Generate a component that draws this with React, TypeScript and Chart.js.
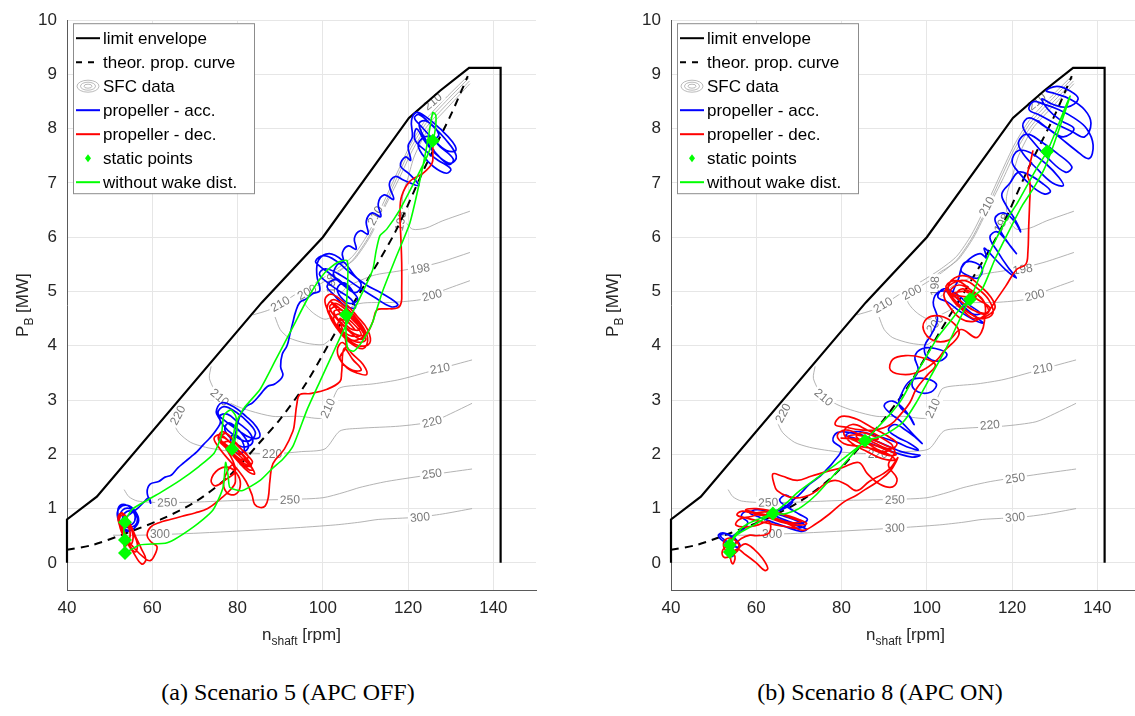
import React, { useEffect, useRef } from "react";
import { Chart, registerables } from "chart.js";
Chart.register(...registerables);

// ---------------- shared data (x = n_shaft [rpm], y = P_B [MW]) ----------------
const X_TICKS = [40, 60, 80, 100, 120, 140];
const Y_TICKS = [0, 1, 2, 3, 4, 5, 6, 7, 8, 9, 10];

const LIMIT_ENVELOPE = [40, 0, 40, 0.8, 47, 1.22, 85.7, 4.8, 100, 6.0, 120.2, 8.2, 127.5, 8.7, 134.3, 9.12, 141.7, 9.12, 141.7, 0];
const PROP_CURVE = [40, 0.24, 46, 0.33, 54, 0.55, 62, 0.8, 70, 1.12, 78, 1.6, 85, 2.2, 90, 2.65, 96, 3.3, 103, 4.25, 110, 5.15, 117, 6.1, 124, 7.3, 130, 8.25, 134, 8.97];

// SFC contour lines (g/kWh)
const SFC_A = [134.5, 6.48, 128, 6.3, 124.2, 6.17, 121, 6.15, 119, 6.35, 118.7, 6.75, 120, 7.1, 121.5, 7.5, 124.8, 8.0, 128.8, 8.35, 134.5, 8.83];
const SFC_198 = [134.5, 5.72, 128, 5.55, 124.6, 5.48, 118, 5.38, 112, 5.3, 106, 5.1, 103, 4.9, 101.9, 5.05, 102.3, 5.3, 105, 5.45, 107.5, 5.6, 111, 6.0, 114.5, 6.55, 118, 7.1, 121, 7.6, 124.5, 8.05, 128.5, 8.4, 134.4, 8.88];
const SFC_200 = [134.5, 5.2, 128.2, 5.02, 123.5, 4.86, 116.4, 4.8, 108.7, 4.78, 104, 4.6, 100.5, 4.49, 97.5, 4.62, 95.5, 4.82, 96.5, 5.0, 99, 5.12, 103, 5.32, 107, 5.58, 110.7, 6.0, 114.2, 6.55, 117.7, 7.15, 120.7, 7.65, 124.2, 8.1, 128.2, 8.45, 134.2, 8.93];
const SFC_210_UP = [83.6, 4.57, 87, 4.65, 89.7, 4.75, 94.4, 4.99, 99, 5.2, 103, 5.4, 107, 5.65, 110.5, 6.05, 114, 6.6, 117.5, 7.2, 120.5, 7.7, 124, 8.15, 128, 8.5, 134, 8.97];
const SFC_210_ARC = [88.8, 4.53, 90, 4.3, 92, 4.15, 96, 4.05, 100, 4.02, 101.5, 4.1];
const SFC_210_LOW = [73.8, 3.62, 73.4, 3.4, 75.2, 3.12, 78.9, 2.92, 83, 2.8, 88.3, 2.7, 94.6, 2.7, 100, 2.67, 101.7, 2.89, 103.5, 3.2, 105.2, 3.25, 112, 3.3, 118.1, 3.38, 127.5, 3.58, 135, 3.74];
const SFC_220 = [66.8, 2.9, 65.5, 2.75, 65, 2.6, 66.2, 2.4, 69, 2.22, 72.5, 2.13, 76, 2.08, 80, 2.04, 88.1, 2.01, 95, 2.05, 100.5, 2.1, 104, 2.43, 108.7, 2.48, 118, 2.52, 125.6, 2.6, 130, 2.75, 135, 2.94];
const SFC_250 = [53.4, 1.35, 54.5, 1.22, 56.5, 1.14, 61.8, 1.11, 70, 1.12, 80, 1.15, 92.3, 1.17, 100, 1.2, 105, 1.3, 108.7, 1.39, 115, 1.5, 125, 1.62, 135, 1.73];
const SFC_300 = [50.8, 0.51, 57.1, 0.51, 71.2, 0.55, 92.3, 0.64, 103, 0.7, 108.7, 0.75, 113, 0.8, 122, 0.84, 128, 0.9, 135, 1.0];
const SFC_LINES = [SFC_A, SFC_198, SFC_200, SFC_210_UP, SFC_210_ARC, SFC_210_LOW, SFC_220, SFC_250, SFC_300];

type Lbl = [string, number, number, number];

// ---------------- Scenario 5 (APC OFF) ----------------
const S5_LABELS: Lbl[] = [
  ["300", 61.8, 0.52, 0], ["300", 122.8, 0.84, -6],
  ["250", 63.5, 1.11, -2], ["250", 92.3, 1.16, -2], ["250", 125.6, 1.64, -8],
  ["220", 66.0, 2.72, -62], ["220", 88.1, 2.01, 0], ["220", 125.6, 2.6, -14],
  ["210", 75.8, 3.05, 40], ["210", 101.2, 2.85, -65], ["210", 127.5, 3.58, -10], ["210", 90.0, 4.77, -30], ["210", 112.3, 6.4, -62], ["210", 125.8, 8.5, -40],
  ["200", 96.3, 4.99, -28], ["200", 125.6, 4.93, -14],
  ["198", 122.8, 5.42, -8], ["198", 102.0, 5.15, -88], ["198", 118.3, 6.3, -80],
];
const S5_STATIC = [53.6, 0.18, 53.6, 0.42, 53.6, 0.75, 78.7, 2.1, 105.4, 4.57, 125.8, 7.78];
const S5_ACC = [
  53.6, 0.3, 53.4, 0.55, 52.2, 0.8, 52.0, 1.0, 53.2, 1.08, 55.2, 1.0, 56.6, 0.85, 56.2, 0.68, 54.6, 0.6, 52.8, 0.68, 51.8, 0.88, 52.4, 1.02, 54.2, 1.06, 56.0, 0.95, 56.8, 0.78, 55.8, 0.64, 54.2, 0.58, 52.9, 0.64, 52.3, 0.8, 53.0, 0.97, 54.8, 1.0, 56.2, 0.9, 56.4, 0.74, 55.2, 0.66, 53.8, 0.66, 53.0, 0.76, 53.6, 0.92, 55.2, 0.95, 56.0, 0.84, 55.4, 0.72, 54.2, 0.72, 53.8, 0.82, 54.8, 0.9,
  56.5, 1.0, 57.8, 1.1, 59.2, 1.2, 59.6, 1.1, 58.8, 1.3, 59.5, 1.45, 61.5, 1.5, 63, 1.58, 64.5, 1.62, 66, 1.75, 67.5, 1.85, 69, 1.95, 70.5, 2.05, 72, 2.18, 73.5, 2.3, 75, 2.45,
  76, 2.6, 75, 2.78, 76.3, 2.95, 79, 2.88, 82, 2.7, 84.5, 2.5, 85.2, 2.32, 83.2, 2.3, 80, 2.45, 77, 2.62, 75.4, 2.76, 76.8, 2.88, 79.6, 2.78, 82.6, 2.58, 84.2, 2.38, 82.2, 2.24, 79, 2.36, 76.6, 2.54, 75.8, 2.7, 77.6, 2.74, 80.2, 2.58, 83, 2.38, 83.4, 2.2, 81, 2.14, 78.6, 2.28, 77, 2.46, 78, 2.58, 80.6, 2.42, 82.6, 2.16, 81.2, 2.04, 79.2, 2.12, 78.4, 2.32, 80, 2.34, 81.6, 2.12, 80.6, 2.0, 79.2, 2.08,
  79.6, 2.4, 80.5, 2.7, 82, 2.88, 83.5, 2.95, 85.3, 3.1, 87, 3.25, 88.8, 3.3, 90.6, 3.45, 90.1, 3.62, 90.5, 3.85, 91.6, 4.0, 92.3, 4.22, 93, 4.44, 93.6, 4.62, 94.6, 4.8, 96, 4.86, 97.6, 4.96, 99.3, 5.02,
  98.6, 5.3, 99, 5.58, 101.5, 5.7, 104.5, 5.58, 107.2, 5.32, 109, 5.12, 107.6, 4.98, 104.8, 5.12, 101.8, 5.32, 99.4, 5.46, 98.3, 5.56, 100.2, 5.66, 103.2, 5.56, 106.2, 5.36, 110.2, 5.12, 114, 4.96, 117.6, 4.76, 116, 4.72, 112, 4.9, 108, 5.1, 104.2, 5.3, 100.6, 5.42, 99.2, 5.32, 101.2, 5.16, 104, 5.0, 106.6, 4.86, 107.6, 4.7, 105.2, 4.74, 102.6, 4.94, 101, 5.1, 103, 5.22, 106, 5.06, 108.2, 4.86, 106.4, 4.78, 104.2, 4.9, 103.4, 5.06, 105, 5.16, 107, 5.0,
  104, 5.2, 102.5, 5.3, 103.4, 5.5, 104.8, 5.55, 104.6, 5.72, 106, 5.84, 107.8, 5.78, 107.4, 5.98, 108.8, 6.12, 110.6, 6.06, 110.2, 6.3, 111.6, 6.45, 113.6, 6.38, 113, 6.62, 114.4, 6.78, 116.6, 6.7, 115.6, 6.98, 117, 7.12, 119, 7.05, 122.5, 6.95, 120.5, 7.15, 118.2, 7.32, 119.4, 7.48, 120.6, 7.42, 120, 7.68, 121, 7.85,
  120.8, 8.15, 122, 8.3, 124.5, 8.2, 127.5, 8.0, 130.4, 7.76, 131.2, 7.6, 129, 7.6, 126, 7.8, 123, 8.05, 121.5, 8.2, 122.6, 8.26, 125.6, 8.06, 128.6, 7.82, 131.3, 7.5, 130, 7.36, 127, 7.5, 124, 7.76, 122, 8.0, 121.6, 7.8, 124, 7.6, 127, 7.42, 130, 7.26, 129, 7.18, 126, 7.3, 123.4, 7.52, 122.4, 7.72, 124.6, 7.86, 127.6, 7.66, 130.6, 7.44, 129.6, 7.34, 126.4, 7.56, 123.8, 7.84, 122.6, 8.1, 124.4, 8.14, 127.2, 7.9, 125.8, 7.78,
];
const S5_DEC = [
  125.8, 7.78, 125.8, 7.55, 125.6, 7.36, 123.5, 7.18, 120.4, 7.03, 118.5, 6.76, 118.1, 6.45, 118.3, 6.0, 118.5, 5.53, 118.5, 5.0, 118.4, 4.8, 117.6, 4.7, 115, 4.68, 112.7, 4.66, 111.7, 4.44,
  110, 4.2, 107, 4.1, 104, 4.3, 101.5, 4.6, 100.5, 4.85, 102, 4.95, 105, 4.8, 108, 4.55, 110.5, 4.3, 111, 4.05, 108.5, 4.0, 105.5, 4.15, 102.5, 4.45, 101, 4.7, 102.5, 4.85, 105.5, 4.7, 108.5, 4.45, 110.5, 4.15, 109.5, 3.95, 106.5, 4.05, 103.5, 4.3, 101.5, 4.6, 103, 4.72, 106, 4.56, 109, 4.3, 110, 4.1, 107.5, 4.08, 104.5, 4.25, 102.5, 4.5, 104, 4.58, 107, 4.42, 109, 4.2, 106, 4.2, 103.5, 4.4, 105, 4.48, 107.5, 4.3,
  102, 4.8, 105, 4.62, 108, 4.4, 110, 4.2, 108.8, 4.12, 106, 4.28, 103, 4.52, 101.6, 4.72, 103.2, 4.78, 106.2, 4.6, 109, 4.35, 109.6, 4.2, 107.4, 4.22, 104.6, 4.4, 102.6, 4.62, 104.2, 4.66, 107.2, 4.48, 108.6, 4.3, 106.4, 4.32, 104, 4.5,
  105.5, 4.0, 104, 3.78, 105.6, 3.6, 108, 3.5, 110.3, 3.47, 109.4, 3.66, 106.8, 3.86, 104.6, 4.06, 103.4, 3.92, 104.4, 3.7, 107, 3.55, 109, 3.56, 107, 3.75, 105, 3.95,
  104.4, 3.5, 104, 3.34, 101, 3.2, 97, 3.12, 94.6, 3.1, 93.9, 2.92, 93.4, 2.6, 93, 2.43, 91, 2.1, 88.3, 1.83, 87.6, 1.52, 87.2, 1.2, 86.5, 1.05, 85.3, 1.02, 84, 1.08, 83.4, 1.25,
  82, 1.5, 80, 1.72, 77.5, 1.94, 75.5, 2.14, 74.5, 2.3, 76, 2.36, 78.5, 2.2, 81, 2.0, 83, 1.8, 84, 1.64, 82.5, 1.68, 80, 1.88, 77.5, 2.1, 75.5, 2.28, 76.5, 2.42, 79, 2.26, 81.5, 2.04, 83.5, 1.86, 82, 1.78, 79.5, 1.96, 77, 2.16, 76, 2.32, 77.5, 2.38, 80, 2.16, 82.5, 1.96, 81, 1.9, 78.5, 2.06, 77, 2.22, 78.5, 2.22, 80.5, 2.0,
  76, 2.25, 78.6, 2.1, 81.5, 1.9, 83.6, 1.72, 82.6, 1.72, 80, 1.92, 77.2, 2.14, 75.6, 2.3, 77, 2.3, 79.6, 2.12, 82.2, 1.92, 83.2, 1.78, 81.4, 1.84, 78.8, 2.02, 76.6, 2.22,
  79.5, 1.72, 77, 1.52, 74.8, 1.42, 73.8, 1.52, 75.5, 1.72, 78, 1.76, 80.2, 1.6, 80.6, 1.4, 79.4, 1.26, 77.4, 1.3, 76.8, 1.52, 78.8, 1.8,
  79.5, 1.5, 78.5, 1.36, 76, 1.18, 73, 1.0, 70, 0.92, 67, 0.86, 64.2, 0.8, 61.6, 0.74, 59.6, 0.66, 58.8, 0.5, 59.8, 0.38, 61.1, 0.3, 60.6, 0.15, 59.5, 0.04, 58, 0.1,
  56, 0.25, 54, 0.45, 52.5, 0.65, 52, 0.85, 53, 0.92, 54.5, 0.76, 56, 0.5, 57.5, 0.25, 58.5, 0.06, 57.5, -0.02, 55.5, 0.2, 53.5, 0.45, 52.3, 0.7, 52.5, 0.9, 53.8, 0.86, 55.2, 0.6, 56.5, 0.35, 56, 0.2, 54.5, 0.35, 53, 0.6, 52.2, 0.8, 53.2, 0.88, 54.6, 0.7, 55.5, 0.5, 55, 0.35, 53.8, 0.5, 53, 0.7, 53.6, 0.76, 54.8, 0.56, 54.5, 0.4, 53.5, 0.3, 53.4, 0.45,
];
const S5_NOWAKE = [
  53.6, 0.18, 53.3, 0.45, 53.6, 0.75, 55.2, 0.98, 58, 1.12, 62, 1.3, 66.5, 1.52, 71, 1.78, 74.5, 2.02, 76.2, 2.35, 76.8, 2.72, 78.4, 2.82, 79.6, 2.7, 79.8, 2.4, 78.7, 2.1, 79.5, 2.55, 81.5, 2.85, 85.3, 3.2, 89, 3.75, 93, 4.35, 97, 4.95, 100.5, 5.35, 103.3, 5.53, 105.7, 5.57, 105.8, 5.1, 105.4, 4.57, 105.5, 4.15, 105.9, 3.94, 107.2, 3.9, 108.7, 4.02, 110.2, 4.2, 111.7, 4.44, 114, 5.0, 117, 5.6, 120.4, 6.26, 122.5, 6.95, 124.2, 7.6, 125.3, 8.1, 125.8, 8.3, 126.5, 8.25, 126.4, 8.0, 125.8, 7.78, 124.5, 7.5, 122, 7.1, 118, 6.5, 115, 6.15, 113.4, 6.03, 112.5, 5.75, 111.7, 5.4, 108.5, 4.85, 104.7, 4.26, 102, 3.8, 99.3, 3.34, 96.3, 2.82, 93, 2.15, 90.5, 1.9, 88.3, 1.75, 85.3, 1.52, 81, 1.33, 78.2, 1.39, 77.8, 1.6, 77.2, 1.85, 76.6, 1.39, 74.2, 0.97, 69.6, 0.66, 63.5, 0.37, 57.1, 0.33, 53.6, 0.18,
];

// ---------------- Scenario 8 (APC ON) ----------------
const S8_LABELS: Lbl[] = [
  ["300", 63.7, 0.52, 0], ["300", 92.5, 0.64, -2], ["300", 120.7, 0.84, -6],
  ["250", 62.8, 1.11, -2], ["250", 92.5, 1.16, -2], ["250", 120.7, 1.56, -8],
  ["220", 66.3, 2.76, -62], ["220", 88.5, 2.01, 0], ["220", 114.8, 2.54, -5],
  ["210", 75.8, 3.05, 40], ["210", 101.4, 2.85, -65], ["210", 127.2, 3.58, -10], ["210", 89.7, 4.75, -30], ["210", 114.1, 6.57, -62], ["210", 125.8, 8.5, -40],
  ["200", 96.5, 4.99, -28], ["200", 125.3, 4.93, -14], ["200", 101.9, 4.4, -50],
  ["198", 101.9, 5.1, -88], ["198", 122.5, 5.41, -8], ["198", 117.6, 6.26, -60],
];
const S8_STATIC = [53.8, 0.2, 53.8, 0.33, 63.9, 0.91, 85.5, 2.25, 110.1, 4.86, 128.2, 7.58];
const S8_ACC = [
  53.8, 0.2, 53, 0.35, 51.5, 0.45, 51.2, 0.52, 52.5, 0.55, 54.5, 0.48, 55.8, 0.38, 56.2, 0.3, 55, 0.3, 53, 0.4, 51.6, 0.5, 52.8, 0.54, 54.8, 0.44, 56, 0.34, 55.2, 0.22, 54.4, 0.12, 54.6, 0.3, 55.4, 0.42, 54, 0.45,
  55.5, 0.55, 57, 0.62, 58, 0.75, 56.5, 0.85, 57.5, 0.95, 60, 0.92, 63, 0.85, 66, 0.78, 69, 0.7, 71.8, 0.62, 70.5, 0.58, 67, 0.66, 63.5, 0.76, 60.5, 0.85, 58.5, 0.92, 60, 0.98, 63, 0.94, 66.5, 0.86, 70, 0.76, 71.5, 0.68, 68.5, 0.64, 65, 0.72, 62, 0.82, 63, 0.92, 66, 0.98, 68.5, 1.12, 67, 1.25, 65.5, 1.15, 67.5, 1.02, 70, 0.9, 72, 0.8, 70, 0.72, 66.5, 0.8, 63.9, 0.91,
  67, 1.05, 70, 1.25, 72.5, 1.45, 75, 1.6, 76.5, 1.72, 78, 1.85,
  80, 2.1, 78, 2.25, 79, 2.4, 82, 2.4, 85, 2.35, 88, 2.25, 91, 2.15, 94, 2.05, 97, 2.0, 98.4, 1.98, 96.5, 1.95, 93, 2.02, 89.5, 2.12, 86, 2.22, 83, 2.3, 81, 2.35, 83, 2.42, 86.5, 2.38, 90, 2.3, 93, 2.22, 96, 2.12, 98, 2.08, 96, 2.2, 93, 2.32, 91, 2.45, 92.5, 2.55, 95, 2.45, 97.5, 2.3, 98.9, 2.2, 97, 2.35, 94, 2.6, 91.5, 2.75, 90, 2.9, 92, 2.98, 95, 2.8, 97, 2.55, 96, 2.7, 93.5, 2.9,
  94, 3.1, 96, 3.35, 99, 3.4, 102.2, 3.3, 101, 3.15, 98, 3.15, 96.5, 3.3, 98, 3.55, 97.2, 3.8, 99, 3.95, 102, 3.95, 104.7, 3.85, 103, 3.72, 100, 3.8, 99.5, 4.0, 101, 4.2,
  102.5, 4.5, 101.5, 4.8, 103, 5.0, 106, 4.95, 109, 4.7, 112, 4.5, 113.2, 4.42, 111, 4.48, 108, 4.62, 105, 4.8, 102.6, 4.9, 104, 5.05, 107, 4.95, 110, 4.75, 112.5, 4.6, 111, 4.58, 108, 4.72, 106, 4.9, 107.5, 5.25, 108.5, 5.5, 110.5, 5.55, 113, 5.42, 112, 5.25, 109.5, 5.3, 108, 5.4, 110, 5.6, 112.5, 5.7, 114, 5.62,
  113.5, 5.8, 116, 5.6, 118.5, 5.4, 121, 5.25, 119, 5.45, 116.5, 5.75, 114.8, 6.0, 116.5, 6.1, 119, 5.9, 121, 5.7, 119.5, 5.85, 117, 6.15, 116, 6.35, 118, 6.45, 120.5, 6.3, 122, 6.1, 120.5, 6.35, 118.5, 6.6, 117.6, 6.8,
  119.5, 7.0, 121.5, 7.2, 124, 7.15, 127, 7.0, 129, 6.85, 127.5, 6.8, 124.5, 6.95, 121.5, 7.2, 120, 7.4, 121.5, 7.6, 124.5, 7.55, 128, 7.35, 131, 7.1, 132, 6.95, 129.5, 7.0, 126, 7.25, 122.5, 7.55, 121.5, 7.75, 123.5, 7.9, 127, 7.75, 130.5, 7.55, 134, 7.3, 132.5, 7.2, 128.5, 7.45, 124.5, 7.8, 122.5, 8.05, 124, 8.2, 127.5, 8.05, 131, 7.85, 135, 7.6, 138, 7.45, 139, 7.7, 137.5, 8.0, 134.5, 8.2, 131, 8.35, 127.5, 8.45, 125, 8.5, 124, 8.35, 126.5, 8.25, 130, 8.1, 134, 7.95, 137, 7.85, 138.5, 8.1, 137, 8.35, 133.5, 8.55, 130, 8.65, 128, 8.7, 130.5, 8.78, 133.5, 8.7, 135.5, 8.55, 133, 8.4, 129.5, 8.45, 127, 8.55, 128.5, 8.35, 131.5, 8.15, 134.5, 8.0, 132, 7.85, 128.5, 8.0, 126, 8.15,
];
const S8_DEC = [
  124.9, 7.6, 124.2, 7.35, 123.6, 7.15, 124.2, 7.0, 124.1, 6.6, 123.9, 6.2, 123.7, 5.72, 123.2, 5.5, 121.1, 5.41, 118.5, 5.1, 116.4, 4.86,
  114, 4.6, 111, 4.45, 108, 4.5, 105.5, 4.7, 104, 4.95, 106, 5.15, 109, 5.2, 112, 5.05, 114.5, 4.85, 115.5, 4.6, 113, 4.5, 110, 4.6, 107, 4.8, 105, 5.05, 106.5, 5.25, 109.5, 5.28, 112.5, 5.1, 115, 4.9, 116, 4.7, 114, 4.55, 111, 4.5, 108.5, 4.65, 106, 4.85, 104.5, 5.1, 107, 5.2, 110, 5.05, 113, 4.85, 114.5, 4.62, 112, 4.62, 109, 4.75, 107, 4.95, 108.5, 5.05, 111.5, 4.9,
  106, 4.95, 109, 5.0, 112, 4.85, 114.8, 4.7, 113.5, 4.58, 110.5, 4.68, 107.5, 4.85, 105.5, 5.0, 107.5, 5.12, 110.5, 5.02, 113.5, 4.8,
  113.5, 4.45, 112.8, 4.25, 111.5, 4.15,
  108, 4.3, 105, 4.1, 101.5, 4.1, 99.2, 4.3, 100, 4.5, 103, 4.55, 106.5, 4.4, 107.5, 4.2,
  104, 3.9, 102.5, 3.75, 99, 3.55, 95, 3.47, 91.5, 3.55, 92, 3.75, 95, 3.82, 99, 3.78, 102, 3.65,
  100, 3.45, 97.5, 3.2, 96, 2.95,
  94, 2.75, 91.5, 2.55, 88, 2.45, 84.5, 2.45, 81, 2.5, 78.5, 2.55, 80, 2.7, 83.5, 2.65, 87, 2.5, 90.5, 2.35, 93, 2.2, 91.5, 2.1, 88, 2.2, 84.5, 2.35, 81, 2.45, 79, 2.35, 80.5, 2.2, 84, 2.15, 87.5, 2.1, 91, 2.0, 92.5, 1.9, 89.5, 1.92, 86, 2.05, 82.5, 2.2, 80.5, 2.4, 82.5, 2.55, 86, 2.45, 89.5, 2.3, 92, 2.15, 90, 2.05, 86.5, 2.18, 83.5, 2.32, 85, 2.4, 88.5, 2.28,
  80, 2.3, 83, 2.28, 86.5, 2.2, 90, 2.1, 92.8, 2.0, 91, 1.98, 87.5, 2.08, 84, 2.22, 81.5, 2.32, 83.5, 2.36, 87, 2.28, 90.5, 2.16, 92.5, 2.06,
  91, 1.8, 93, 1.55, 92, 1.4, 89, 1.45, 86, 1.65, 84, 1.85, 80, 1.75, 77.3, 1.7, 73, 1.6, 69.6, 1.52, 66, 1.6, 63.9, 1.64, 64.2, 1.45, 64.9, 1.33, 67.5, 1.22, 70.2, 1.2, 72.5, 1.25, 74.2, 1.33, 76, 1.45, 78.5, 1.52, 81, 1.45, 83.6, 1.33, 86.5, 1.5, 89.7, 1.64, 91.5, 1.75, 93.2, 1.94, 91.5, 1.7, 88.5, 1.5, 85.5, 1.35, 83.6, 1.25, 80.5, 1.12, 77.3, 0.91, 74, 0.72, 70.9, 0.6,
  68, 0.7, 65, 0.8, 62, 0.88, 59, 0.92, 56.5, 0.95, 55.5, 0.88, 58, 0.82, 61, 0.76, 64.5, 0.7, 67.5, 0.66, 69.5, 0.64, 67, 0.74, 63.5, 0.84, 60, 0.92, 57.5, 0.98, 60, 1.0, 63.5, 0.96, 67, 0.88, 70, 0.8, 71.8, 0.72, 69, 0.7, 65.5, 0.76, 62, 0.86, 59.5, 0.9, 62, 0.94, 65.5, 0.9, 68.5, 0.82, 70.5, 0.76, 68, 0.74, 64.5, 0.82, 61.5, 0.9, 58.5, 0.85, 56, 0.8, 55.2, 0.7, 57.5, 0.66, 60.5, 0.7, 63, 0.76,
  63, 0.55, 60, 0.5, 58.5, 0.51, 56.5, 0.45,
  55, 0.35, 53, 0.3, 52, 0.2, 52.5, 0.1, 54.5, 0.15, 56, 0.28, 55, 0.42, 53.2, 0.45, 52.3, 0.35, 53, 0.22, 55, 0.2, 56.2, 0.3, 57.5, 0.35, 59.5, 0.25, 61.5, 0.08, 62.7, -0.1, 62, -0.14, 60, 0.0, 57.5, 0.15, 55.5, 0.25, 54, 0.1, 54.5, -0.02, 55, 0.12, 53.8, 0.25, 53.5, 0.4,
];
const S8_NOWAKE = [
  53.8, 0.12, 54, 0.35, 55.5, 0.52, 59, 0.68, 63.9, 0.91, 67, 1.1, 70.2, 1.33, 74.5, 1.58, 78.9, 1.83, 82.5, 2.05, 85.5, 2.25, 88.5, 2.5, 91.5, 2.75, 94, 3.0, 96.5, 3.35, 99.5, 3.75, 102.5, 4.15, 105.5, 4.45, 108, 4.7, 110.1, 4.86, 112.5, 5.3, 115.5, 5.85, 118.5, 6.3, 121, 6.6, 123.5, 6.95, 126, 7.3, 128.2, 7.58, 130.5, 8.0, 132.5, 8.4, 133.6, 8.6, 133, 8.45, 131.5, 8.1, 129.5, 7.65, 127.5, 7.25, 125, 6.9, 122.5, 6.6, 119.5, 6.15, 116, 5.6, 113, 5.05, 110.1, 4.86, 107.5, 4.45, 104.5, 3.95, 101, 3.45, 97.5, 2.95, 94.5, 2.6, 91, 2.4, 88, 2.3, 85.5, 2.25, 82, 1.95, 78, 1.6, 74, 1.25, 70, 1.0, 66.5, 0.9, 63.9, 0.91, 61, 0.82, 58, 0.72, 56, 0.6, 54.5, 0.45, 53.8, 0.2,
];

const LEGEND_ITEMS = ["limit envelope", "theor. prop. curve", "SFC data", "propeller - acc.", "propeller - dec.", "static points", "without wake dist."];

// ---------------- helpers ----------------
const FONT = "'Liberation Sans', Arial, Helvetica, sans-serif";
const pts = (a: number[]) => {
  const out: { x: number; y: number }[] = [];
  for (let i = 0; i + 1 < a.length; i += 2) out.push({ x: a[i], y: a[i + 1] });
  return out;
};

interface PanelSpec {
  left: number; width: number; height: number; yAxisW: number; padRight: number; xMax: number; yTitleOffset: number;
  labels: Lbl[]; acc: number[]; dec: number[]; nowake: number[]; statics: number[];
}

function buildConfig(s: PanelSpec): any {
  const datasets: any[] = [];
  SFC_LINES.forEach((c) =>
    datasets.push({ data: pts(c), borderColor: "#a0a0a0", borderWidth: 0.8, showLine: true, pointRadius: 0, tension: 0.25, order: 10 })
  );
  datasets.push({ data: pts(LIMIT_ENVELOPE), borderColor: "#000", borderWidth: 2.2, showLine: true, pointRadius: 0, tension: 0, order: 8, clip: 6 });
  datasets.push({ data: pts(PROP_CURVE), borderColor: "#000", borderWidth: 2, borderDash: [8, 6], showLine: true, pointRadius: 0, tension: 0.3, order: 7, clip: 6 });
  datasets.push({ data: pts(s.acc), borderColor: "#0000ff", borderWidth: 1.7, showLine: true, pointRadius: 0, tension: 0.4, order: 5 });
  datasets.push({ data: pts(s.dec), borderColor: "#ff0000", borderWidth: 1.7, showLine: true, pointRadius: 0, tension: 0.4, order: 4 });
  datasets.push({ data: pts(s.nowake), borderColor: "#00ff00", borderWidth: 1.6, showLine: true, pointRadius: 0, tension: 0.2, order: 2 });
  datasets.push({ data: pts(s.statics), showLine: false, pointStyle: "rectRot", pointRadius: 7, backgroundColor: "#00ff00", borderColor: "#00ff00", borderWidth: 0, order: 1 });

  const contourLabels = {
    id: "contourLabels",
    afterDatasetDraw(chart: any, args: any) {
      if (args.index !== 0) return;
      const { ctx, chartArea } = chart;
      const xs = chart.scales.x, ys = chart.scales.y;
      ctx.save();
      ctx.beginPath();
      ctx.rect(chartArea.left, chartArea.top, chartArea.right - chartArea.left, chartArea.bottom - chartArea.top);
      ctx.clip();
      ctx.font = `12px ${FONT}`;
      ctx.textAlign = "center";
      ctx.textBaseline = "middle";
      s.labels.forEach(([t, x, y, a]) => {
        const px = xs.getPixelForValue(x), py = ys.getPixelForValue(y);
        ctx.save();
        ctx.translate(px, py);
        ctx.rotate((a * Math.PI) / 180);
        const w = ctx.measureText(t).width;
        ctx.fillStyle = "#fff";
        ctx.fillRect(-w / 2 - 2, -6, w + 4, 12);
        ctx.fillStyle = "#7a7a7a";
        ctx.fillText(t, 0, 0.5);
        ctx.restore();
      });
      ctx.restore();
    },
  };

  const decorations = {
    id: "decorations",
    afterDraw(chart: any) {
      const { ctx, chartArea } = chart;
      ctx.save();
      // y-axis title P_B [MW]
      const cy = (chartArea.top + chartArea.bottom) / 2;
      ctx.translate(chartArea.left - s.yTitleOffset, cy);
      ctx.rotate(-Math.PI / 2);
      ctx.fillStyle = "#262626";
      ctx.textBaseline = "alphabetic";
      ctx.textAlign = "left";
      ctx.font = `17px ${FONT}`;
      const wP = ctx.measureText("P").width;
      ctx.font = `12px ${FONT}`;
      const wB = ctx.measureText("B").width;
      ctx.font = `17px ${FONT}`;
      const wR = ctx.measureText(" [MW]").width;
      let x0 = -(wP + wB + wR) / 2;
      ctx.fillText("P", x0, 6);
      ctx.font = `12px ${FONT}`;
      ctx.fillText("B", x0 + wP, 11);
      ctx.font = `17px ${FONT}`;
      ctx.fillText(" [MW]", x0 + wP + wB, 6);
      ctx.restore();

      // x-axis title n_shaft [rpm]
      ctx.save();
      ctx.fillStyle = "#262626";
      ctx.textBaseline = "alphabetic";
      ctx.textAlign = "left";
      const cx = (chartArea.left + chartArea.right) / 2;
      ctx.font = `17px ${FONT}`;
      const wn = ctx.measureText("n").width;
      ctx.font = `12px ${FONT}`;
      const ws = ctx.measureText("shaft").width;
      ctx.font = `17px ${FONT}`;
      const wr = ctx.measureText(" [rpm]").width;
      x0 = cx - (wn + ws + wr) / 2;
      const by = chartArea.bottom + 50;
      ctx.fillText("n", x0, by);
      ctx.font = `12px ${FONT}`;
      ctx.fillText("shaft", x0 + wn, by + 5);
      ctx.font = `17px ${FONT}`;
      ctx.fillText(" [rpm]", x0 + wn + ws, by);
      ctx.restore();

      // legend
      ctx.save();
      const bx = chartArea.left + 6, byy = chartArea.top + 3, bw = 181, bh = 170;
      ctx.fillStyle = "#fff";
      ctx.fillRect(bx, byy, bw, bh);
      ctx.strokeStyle = "#8c8c8c";
      ctx.lineWidth = 1;
      ctx.strokeRect(bx + 0.5, byy + 0.5, bw, bh);
      ctx.font = `17px ${FONT}`;
      ctx.textBaseline = "middle";
      ctx.textAlign = "left";
      LEGEND_ITEMS.forEach((t, i) => {
        const yy = byy + 15 + i * 24;
        const l0 = bx + 3, l1 = bx + 27;
        ctx.save();
        if (i === 0 || i === 1) {
          ctx.strokeStyle = "#000";
          ctx.lineWidth = 2;
          if (i === 1) ctx.setLineDash([6, 6]);
          ctx.beginPath(); ctx.moveTo(l0, yy); ctx.lineTo(l1, yy); ctx.stroke();
        } else if (i === 2) {
          ctx.strokeStyle = "#a8a8a8";
          ctx.lineWidth = 0.8;
          [[11, 6], [7.5, 4], [4, 2]].forEach(([rx, ry]) => {
            ctx.beginPath(); ctx.ellipse((l0 + l1) / 2, yy, rx, ry, 0, 0, Math.PI * 2); ctx.stroke();
          });
        } else if (i === 5) {
          ctx.fillStyle = "#00ff00";
          const mx = (l0 + l1) / 2;
          ctx.beginPath(); ctx.moveTo(mx, yy - 4); ctx.lineTo(mx + 3, yy); ctx.lineTo(mx, yy + 4); ctx.lineTo(mx - 3, yy); ctx.closePath(); ctx.fill();
        } else {
          ctx.strokeStyle = i === 3 ? "#0000ff" : i === 4 ? "#ff0000" : "#00ff00";
          ctx.lineWidth = 2;
          ctx.beginPath(); ctx.moveTo(l0, yy); ctx.lineTo(l1, yy); ctx.stroke();
        }
        ctx.restore();
        ctx.fillStyle = "#000";
        ctx.fillText(t, bx + 30, yy + 1);
      });
      ctx.restore();
    },
  };

  return {
    type: "scatter",
    data: { datasets },
    options: {
      responsive: false,
      animation: false,
      devicePixelRatio: 1,
      layout: { padding: { top: 15, left: 0, right: s.padRight, bottom: 0 } },
      plugins: { legend: { display: false }, tooltip: { enabled: false } },
      events: [],
      scales: {
        x: {
          type: "linear",
          min: 40,
          max: s.xMax,
          afterFit: (sc: any) => { sc.height = s.height - 590; },
          afterBuildTicks: (sc: any) => { sc.ticks = X_TICKS.filter((v) => v <= s.xMax).map((v) => ({ value: v })); },
          ticks: { font: { family: FONT, size: 17 }, color: "#262626", padding: 8, maxRotation: 0 },
          grid: { color: "#e6e6e6", drawTicks: false, lineWidth: 1 },
          border: { display: true, color: "#5a5a5a", width: 1 },
        },
        y: {
          type: "linear",
          min: -0.5,
          max: 10,
          afterFit: (sc: any) => { sc.width = s.yAxisW; },
          afterBuildTicks: (sc: any) => { sc.ticks = Y_TICKS.map((v) => ({ value: v })); },
          ticks: { font: { family: FONT, size: 17 }, color: "#262626", padding: 10 },
          grid: { color: "#e6e6e6", drawTicks: false, lineWidth: 1 },
          border: { display: true, color: "#5a5a5a", width: 1 },
        },
      },
    },
    plugins: [contourLabels, decorations],
  };
}

const LEFT_SPEC: PanelSpec = {
  left: 0, width: 575, height: 660, yAxisW: 67, padRight: 575 - 536, xMax: 150, yTitleOffset: 45,
  labels: S5_LABELS, acc: S5_ACC, dec: S5_DEC, nowake: S5_NOWAKE, statics: S5_STATIC,
};
const RIGHT_SPEC: PanelSpec = {
  left: 580, width: 600, height: 660, yAxisW: 91, padRight: 40, xMax: 150, yTitleOffset: 59,
  labels: S8_LABELS, acc: S8_ACC, dec: S8_DEC, nowake: S8_NOWAKE, statics: S8_STATIC,
};

function Panel({ spec }: { spec: PanelSpec }) {
  const ref = useRef<HTMLCanvasElement>(null);
  useEffect(() => {
    const chart = new Chart(ref.current as HTMLCanvasElement, buildConfig(spec));
    return () => chart.destroy();
  }, [spec]);
  return (
    <canvas
      ref={ref}
      width={spec.width}
      height={spec.height}
      style={{ position: "absolute", left: spec.left, top: 0, width: spec.width, height: spec.height }}
    />
  );
}

export default function App() {
  const cap: React.CSSProperties = {
    position: "absolute", top: 679, fontFamily: "'Liberation Serif', 'Times New Roman', serif", fontSize: 24,
    textAlign: "center", color: "#000", whiteSpace: "nowrap",
  };
  return (
    <div style={{ position: "absolute", left: 0, top: 0, width: 1135, height: 716, background: "#fff", overflow: "hidden" }}>
      <Panel spec={LEFT_SPEC} />
      <Panel spec={RIGHT_SPEC} />
      <div style={{ ...cap, left: 0, width: 576 }}>(a) Scenario 5 (APC OFF)</div>
      <div style={{ ...cap, left: 625, width: 510 }}>(b) Scenario 8 (APC ON)</div>
    </div>
  );
}
